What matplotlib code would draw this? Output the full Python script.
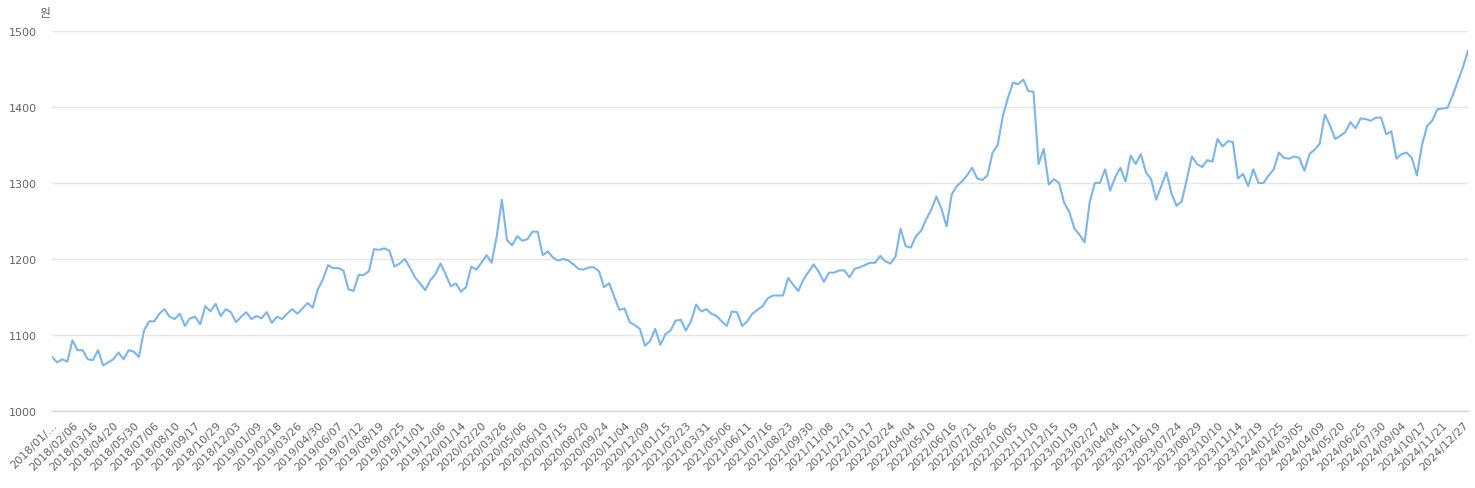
import matplotlib
matplotlib.use("Agg")
import matplotlib.pyplot as plt
import numpy as np

# 원/달러 환율, 2018/01 ~ 2024/12 (눈금 사이마다 4개씩 읽은 값)
rates = [
    1071, 1064, 1068, 1065, 1093, 1080, 1080, 1068, 1067, 1080,
    1060, 1064, 1068, 1077, 1068, 1080, 1078, 1071, 1106, 1118,
    1118, 1128, 1134, 1124, 1121, 1128, 1112, 1122, 1124, 1114,
    1138, 1131, 1141, 1125, 1134, 1130, 1117, 1124, 1130, 1121,
    1125, 1122, 1130, 1116, 1124, 1121, 1128, 1134, 1128, 1135,
    1142, 1136, 1160, 1173, 1192, 1188, 1188, 1185, 1160, 1158,
    1179, 1179, 1184, 1213, 1212, 1214, 1211, 1190, 1194, 1200,
    1189, 1176, 1168, 1159, 1172, 1180, 1194, 1180, 1164, 1168,
    1157, 1163, 1190, 1186, 1195, 1205, 1195, 1230, 1278, 1225,
    1218, 1230, 1224, 1226, 1236, 1236, 1205, 1210, 1202, 1198,
    1200, 1198, 1193, 1187, 1186, 1189, 1189, 1184, 1163, 1168,
    1150, 1133, 1135, 1117, 1113, 1108, 1086, 1092, 1108, 1087,
    1101, 1106, 1119, 1120, 1106, 1118, 1140, 1131, 1134, 1128,
    1125, 1118, 1112, 1131, 1130, 1112, 1118, 1128, 1133, 1138,
    1148, 1152, 1152, 1152, 1175, 1166, 1158, 1173, 1183, 1193,
    1183, 1170, 1182, 1182, 1185, 1185, 1176, 1187, 1189, 1192,
    1195, 1195, 1204, 1197, 1194, 1203, 1240, 1217, 1215, 1230,
    1237, 1252, 1265, 1282, 1266, 1243, 1285, 1296, 1302, 1310,
    1320, 1306, 1304, 1310, 1340, 1350, 1388, 1412, 1432, 1430,
    1436, 1421, 1420, 1325, 1345, 1298, 1305, 1300, 1274, 1262,
    1240, 1232, 1222, 1275, 1300, 1300, 1318, 1290, 1308, 1320,
    1302, 1336, 1325, 1338, 1314, 1305, 1278, 1296, 1314, 1286,
    1270, 1276, 1305, 1335, 1325, 1321, 1330, 1328, 1358, 1348,
    1355, 1354, 1306, 1312, 1296, 1318, 1300, 1300, 1310, 1318,
    1340, 1333, 1332, 1335, 1333, 1316, 1338, 1344, 1352, 1390,
    1376, 1358, 1362, 1367, 1380, 1372, 1385, 1384, 1382, 1386,
    1386, 1364, 1368, 1332, 1338, 1340, 1333, 1310, 1350, 1375,
    1382, 1397, 1398, 1399, 1415, 1434, 1452, 1474,
]

date_labels = [
    "2018/01/…", "2018/02/06", "2018/03/16", "2018/04/20", "2018/05/30",
    "2018/07/06", "2018/08/10", "2018/09/17", "2018/10/29", "2018/12/03",
    "2019/01/09", "2019/02/18", "2019/03/26", "2019/04/30", "2019/06/07",
    "2019/07/12", "2019/08/19", "2019/09/25", "2019/11/01", "2019/12/06",
    "2020/01/14", "2020/02/20", "2020/03/26", "2020/05/06", "2020/06/10",
    "2020/07/15", "2020/08/20", "2020/09/24", "2020/11/04", "2020/12/09",
    "2021/01/15", "2021/02/23", "2021/03/31", "2021/05/06", "2021/06/11",
    "2021/07/16", "2021/08/23", "2021/09/30", "2021/11/08", "2021/12/13",
    "2022/01/17", "2022/02/24", "2022/04/04", "2022/05/10", "2022/06/16",
    "2022/07/21", "2022/08/26", "2022/10/05", "2022/11/10", "2022/12/15",
    "2023/01/19", "2023/02/27", "2023/04/04", "2023/05/11", "2023/06/19",
    "2023/07/24", "2023/08/29", "2023/10/10", "2023/11/14", "2023/12/19",
    "2024/01/25", "2024/03/05", "2024/04/09", "2024/05/20", "2024/06/25",
    "2024/07/30", "2024/09/04", "2024/10/17", "2024/11/21", "2024/12/27",
]
points_per_label = 4

y_ticks = [1000, 1100, 1200, 1300, 1400, 1500]

plt.rcParams['font.family'] = ['DejaVu Sans', 'Noto Sans CJK KR']

W, H = 1475, 489
fig = plt.figure(figsize=(W / 100, H / 100), dpi=100)
ax = fig.add_axes([52 / W, 1 - 412 / H, (1468 - 52) / W, (412 - 32) / H])

x = np.arange(len(rates))
ax.plot(x, rates, color='#7cb5ec', linewidth=1.5, solid_joinstyle='round')

ax.set_xlim(0, len(rates) - 1)
ax.set_ylim(y_ticks[0], y_ticks[-1])
ax.set_yticks(y_ticks)
ax.set_yticklabels([str(v) for v in y_ticks])
ax.grid(axis='y', color='#e6e6e6', linewidth=1)
ax.set_axisbelow(True)

tick_pos = np.arange(len(date_labels)) * points_per_label
ax.set_xticks(tick_pos)
ax.set_xticklabels(date_labels, rotation=45, ha='right', va='top',
                   rotation_mode='anchor')

for s in ['top', 'right', 'left']:
    ax.spines[s].set_visible(False)
ax.spines['bottom'].set_color('#ccd6eb')
ax.spines['bottom'].set_linewidth(1)

ax.tick_params(axis='y', length=0, pad=11, labelsize=8, labelcolor='#666666')
ax.tick_params(axis='x', length=0, pad=6, labelsize=8, labelcolor='#666666')

fig.text(45 / W, 1 - 14 / H, "원", ha='center', va='center', fontsize=8.5,
         color='#666666', family=['Noto Sans CJK KR', 'DejaVu Sans'])

fig.savefig("out.png", dpi=100)
